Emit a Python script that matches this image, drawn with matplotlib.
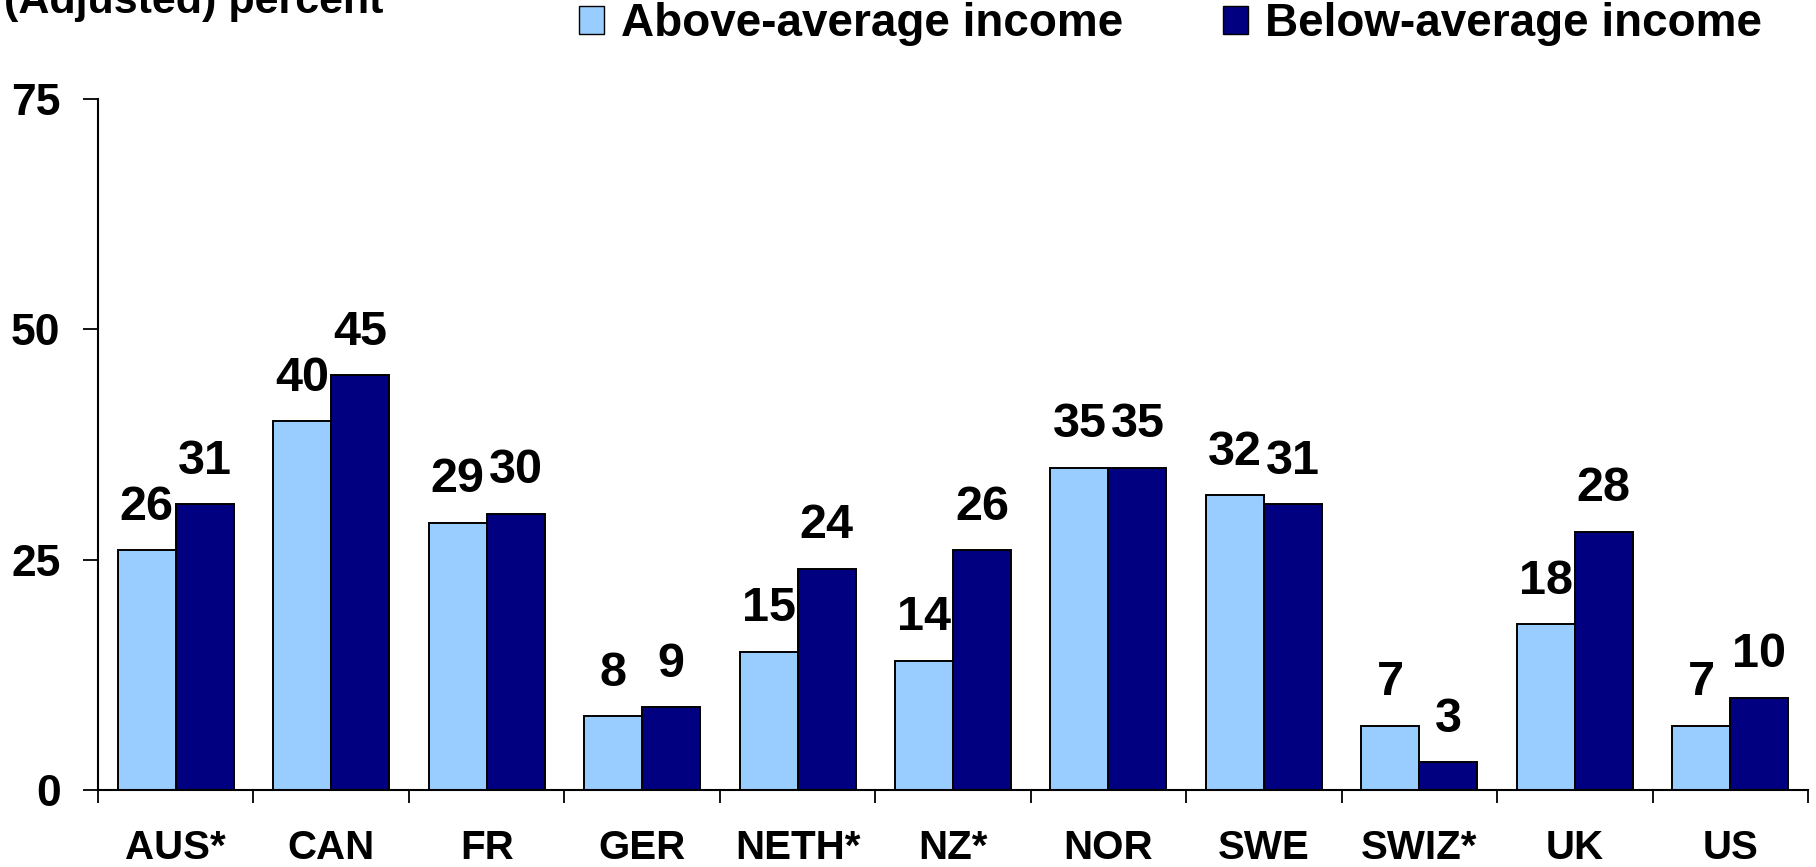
import numpy as np
import matplotlib
matplotlib.use("Agg")
import matplotlib.pyplot as plt
from matplotlib.patches import Rectangle

countries = ["AUS*", "CAN", "FR", "GER", "NETH*", "NZ*", "NOR", "SWE", "SWIZ*", "UK", "US"]
above_avg = [26, 40, 29, 8, 15, 14, 35, 32, 7, 18, 7]
below_avg = [31, 45, 30, 9, 24, 26, 35, 31, 3, 28, 10]
series_names = ["Above-average income", "Below-average income"]
y_ticks = [0, 25, 50, 75]

LIGHT = "#99CCFF"
DARK = "#000080"
BOLD = ["Liberation Sans", "DejaVu Sans"]

W, H = 1816, 867
fig = plt.figure(figsize=(W / 100, H / 100), dpi=100)
ax = fig.add_axes([98 / W, 77 / H, (1808 - 98) / W, (790 - 99) / H])

x = np.arange(len(countries))
bw = 0.373
b1 = ax.bar(x - bw / 2, above_avg, bw, color=LIGHT, edgecolor="black", linewidth=1.4)
b2 = ax.bar(x + bw / 2, below_avg, bw, color=DARK, edgecolor="black", linewidth=1.4)

for bars, vals in ((b1, above_avg), (b2, below_avg)):
    for r, v in zip(bars, vals):
        ax.annotate(f"{v}", (r.get_x() + r.get_width() / 2, v), xytext=(0, 22),
                    textcoords="offset points", ha="center", va="baseline",
                    fontsize=35, fontweight="bold", family=BOLD)

ax.set_xlim(-0.5, len(countries) - 0.5)
ax.set_ylim(0, 75)
ax.set_yticks(y_ticks)
ax.set_yticklabels([str(t) for t in y_ticks], fontsize=32, fontweight="bold", family=BOLD)
ax.tick_params(axis="y", length=11, width=1.3, pad=16)

ax.set_xticks(x)
ax.set_xticklabels(countries, fontsize=29, fontweight="bold", family=BOLD)
ax.set_xticks(np.arange(len(countries) + 1) - 0.5, minor=True)
ax.tick_params(axis="x", which="major", length=0, pad=28)
ax.tick_params(axis="x", which="minor", length=9, width=1.3)

for s in ("top", "right"):
    ax.spines[s].set_visible(False)
for s in ("left", "bottom"):
    ax.spines[s].set_linewidth(1.5)

fig.text(4 / W, 1 - 13 / H, "(Adjusted) percent", fontsize=31, fontweight="bold",
         family=BOLD, va="baseline", ha="left")

handles = [Rectangle((0, 0), 1, 1, facecolor=LIGHT, edgecolor="black", linewidth=1.0),
           Rectangle((0, 0), 1, 1, facecolor=DARK, edgecolor="black", linewidth=1.0)]
fig.legend(handles, series_names, loc="center left", bbox_to_anchor=(579 / W, 1 - 24 / H),
           ncol=2, frameon=False, borderpad=0, borderaxespad=0,
           handlelength=0.55, handleheight=0.55, handletextpad=0.37, columnspacing=2.17,
           prop={"size": 33, "weight": "bold", "family": BOLD})

fig.savefig("out.png", dpi=100)
